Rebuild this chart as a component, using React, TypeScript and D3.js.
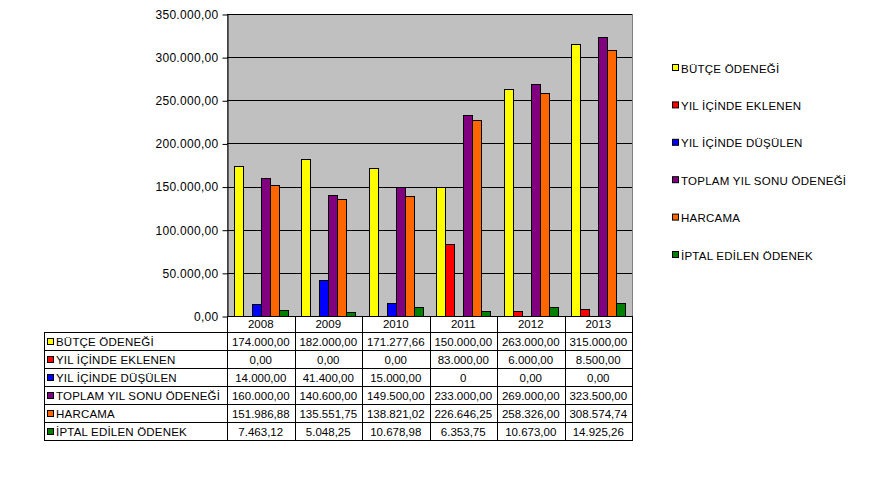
import { useEffect, useRef } from "react";
import * as d3 from "d3";

// chart data
const years = ["2008", "2009", "2010", "2011", "2012", "2013"];
const seriesNames = [
  "BÜTÇE ÖDENEĞİ",
  "YIL İÇİNDE EKLENEN",
  "YIL İÇİNDE DÜŞÜLEN",
  "TOPLAM YIL SONU ÖDENEĞİ",
  "HARCAMA",
  "İPTAL EDİLEN ÖDENEK",
];
const butce = [174000, 182000, 171277.66, 150000, 263000, 315000];
const eklenen = [0, 0, 0, 83000, 6000, 8500];
const dusulen = [14000, 41400, 15000, 0, 0, 0];
const toplam = [160000, 140600, 149500, 233000, 269000, 323500];
const harcama = [151986.88, 135551.75, 138821.02, 226646.25, 258326, 308574.74];
const iptal = [7463.12, 5048.25, 10678.98, 6353.75, 10673, 14925.26];
const seriesColors = ["#FFFF00", "#FF0000", "#0000FF", "#800080", "#FF6600", "#008000"];
const yTicks = [0, 50000, 100000, 150000, 200000, 250000, 300000, 350000];
// one cell in the source table is written as a bare "0"
const bareZeroCells = [[2, 3]];

export default function App() {
  const svgRef = useRef<SVGSVGElement>(null);

  useEffect(() => {
    const width = 870;
    const height = 487;
    const plot = { left: 227, right: 632, top: 14, bottom: 316 };
    const table = { left: 44, rowH: 18, headerH: 16 };
    const font = "Liberation Sans, Arial, sans-serif";

    const series = [butce, eklenen, dusulen, toplam, harcama, iptal];
    const tr = d3.formatLocale({ decimal: ",", thousands: ".", grouping: [3], currency: ["", ""] });
    const fmt = tr.format(",.2f");

    const svg = d3.select(svgRef.current)
      .attr("width", width)
      .attr("height", height)
      .style("background", "#ffffff");
    svg.selectAll("*").remove();

    const x0 = d3.scaleBand().domain(years).range([plot.left, plot.right]).paddingInner(0).paddingOuter(0);
    const x1 = d3.scaleBand<number>()
      .domain(d3.range(series.length))
      .range([0, x0.bandwidth()])
      .paddingInner(0)
      .paddingOuter(0.75);
    const y = d3.scaleLinear().domain([0, 350000]).range([plot.bottom, plot.top]);

    // plot background
    svg.append("rect")
      .attr("x", plot.left + 0.5)
      .attr("y", plot.top + 0.5)
      .attr("width", plot.right - plot.left)
      .attr("height", plot.bottom - plot.top)
      .attr("fill", "#C0C0C0")
      .attr("stroke", "#808080")
      .attr("stroke-width", 1);

    // gridlines
    svg.append("g")
      .selectAll("line")
      .data(yTicks.filter(d => d > 0))
      .join("line")
      .attr("x1", plot.left)
      .attr("x2", plot.right)
      .attr("y1", d => Math.round(y(d)) + 0.5)
      .attr("y2", d => Math.round(y(d)) + 0.5)
      .attr("stroke", "#000")
      .attr("stroke-width", 1);

    // bars
    series.forEach((vals, si) => {
      svg.append("g")
        .selectAll("rect")
        .data(vals.map((v, i) => ({ year: years[i], v })).filter(d => d.v > 0))
        .join("rect")
        .attr("x", d => Math.round((x0(d.year) ?? 0) + (x1(si) ?? 0)) + 0.5)
        .attr("y", d => Math.round(y(d.v)) + 0.5)
        .attr("width", Math.round(x1.bandwidth()))
        .attr("height", d => Math.round(y(0)) - Math.round(y(d.v)))
        .attr("fill", seriesColors[si])
        .attr("stroke", "#000")
        .attr("stroke-width", 1);
    });

    // y axis
    const yAxis = svg.append("g")
      .attr("transform", `translate(${plot.left + 0.5},0.5)`)
      .call(d3.axisLeft(y).tickValues(yTicks).tickFormat(d => fmt(+d)).tickSize(5).tickSizeOuter(0));
    yAxis.select(".domain").attr("stroke", "#000");
    yAxis.selectAll("line").attr("stroke", "#000");
    yAxis.selectAll("text")
      .attr("x", -9)
      .attr("fill", "#000")
      .style("font-family", font)
      .style("font-size", "12px")
      .style("letter-spacing", "0.3px");

    // data table
    const colEdges = years.map(yr => x0(yr) ?? 0).concat([plot.right]);
    const tableTop = plot.bottom;
    const rowsTop = tableTop + table.headerH;
    const tableBottom = rowsTop + series.length * table.rowH;
    const tg = svg.append("g").attr("shape-rendering", "crispEdges");

    // vertical lines
    tg.selectAll("line.col")
      .data(colEdges)
      .join("line")
      .attr("class", "col")
      .attr("x1", d => Math.round(d) + 0.5)
      .attr("x2", d => Math.round(d) + 0.5)
      .attr("y1", tableTop)
      .attr("y2", tableBottom)
      .attr("stroke", "#000");
    tg.append("line")
      .attr("x1", table.left + 0.5).attr("x2", table.left + 0.5)
      .attr("y1", rowsTop).attr("y2", tableBottom)
      .attr("stroke", "#000");
    // horizontal lines
    tg.selectAll("line.row")
      .data(d3.range(series.length + 1))
      .join("line")
      .attr("class", "row")
      .attr("x1", table.left)
      .attr("x2", plot.right + 1)
      .attr("y1", i => rowsTop + i * table.rowH + 0.5)
      .attr("y2", i => rowsTop + i * table.rowH + 0.5)
      .attr("stroke", "#000");
    tg.append("line")
      .attr("x1", plot.left).attr("x2", plot.right + 1)
      .attr("y1", tableTop + 0.5).attr("y2", tableTop + 0.5)
      .attr("stroke", "#000");

    // header years
    tg.selectAll("text.year")
      .data(years)
      .join("text")
      .attr("class", "year")
      .attr("x", d => (x0(d) ?? 0) + x0.bandwidth() / 2)
      .attr("y", tableTop + table.headerH / 2 + 4)
      .attr("text-anchor", "middle")
      .style("font-family", font)
      .style("font-size", "11.5px")
      .text(d => d);

    series.forEach((vals, si) => {
      const rowY = rowsTop + si * table.rowH;
      tg.append("rect")
        .attr("x", table.left + 3.5)
        .attr("y", rowY + 6.5)
        .attr("width", 6)
        .attr("height", 6)
        .attr("fill", seriesColors[si])
        .attr("stroke", "#000");
      tg.append("text")
        .attr("x", table.left + 12)
        .attr("y", rowY + table.rowH / 2 + 5)
        .style("font-family", font)
        .style("font-size", "11.5px")
        .style("letter-spacing", "0.2px")
        .text(seriesNames[si]);
      tg.selectAll(null)
        .data(vals)
        .join("text")
        .attr("x", (_, i) => (x0(years[i]) ?? 0) + x0.bandwidth() / 2)
        .attr("y", rowY + table.rowH / 2 + 5)
        .attr("text-anchor", "middle")
        .style("font-family", font)
        .style("font-size", "11.5px")
        .text((v, i) => bareZeroCells.some(c => c[0] === si && c[1] === i) ? String(v) : fmt(v));
    });

    // legend
    const legendY = d3.scalePoint<number>().domain(d3.range(series.length)).range([68, 255]);
    const lg = svg.append("g");
    seriesNames.forEach((name, si) => {
      lg.append("rect")
        .attr("x", 672.5)
        .attr("y", legendY(si)! - 3.5)
        .attr("width", 6)
        .attr("height", 6)
        .attr("fill", seriesColors[si])
        .attr("stroke", "#000");
      lg.append("text")
        .attr("x", 681)
        .attr("y", legendY(si)! + 4.5)
        .style("font-family", font)
        .style("font-size", "11.5px")
        .style("letter-spacing", "0.25px")
        .text(name);
    });
  }, []);

  return <svg ref={svgRef} style={{ position: "absolute", left: 0, top: 0, display: "block" }}></svg>;
}
